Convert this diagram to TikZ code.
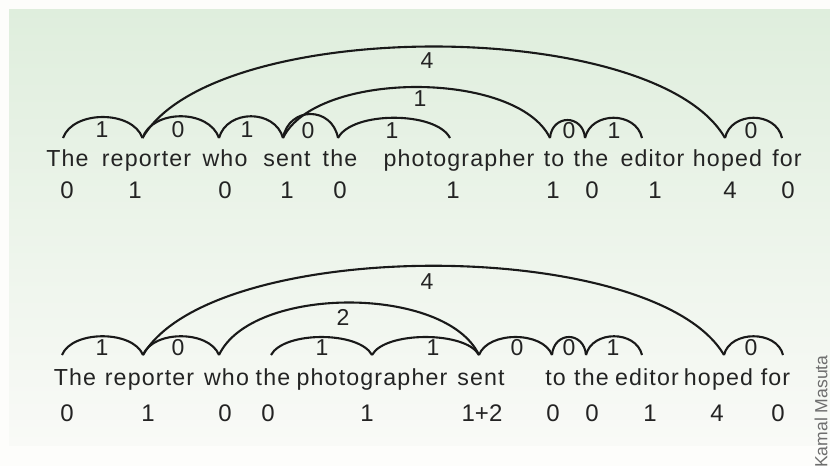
\documentclass[tikz,border=0pt]{standalone}
\usepackage{fontspec}
\setmainfont{Liberation Sans}
\newfontfamily\wordfont[LetterSpace=5]{Liberation Sans}
\definecolor{bgtop}{RGB}{223,238,221}
\definecolor{bgbot}{RGB}{249,250,247}
\definecolor{paper}{RGB}{253,253,251}
\definecolor{txt}{RGB}{35,35,35}
\definecolor{credit}{RGB}{110,110,110}
\tikzset{
  word/.style={font=\wordfont\fontsize{11.6}{13}\selectfont, text=txt, inner sep=0pt, anchor=base},
  count/.style={font=\fontsize{12}{14}\selectfont, text=txt, inner sep=0pt},
  arclabel/.style={font=\fontsize{11.5}{13}\selectfont, text=txt, inner sep=0pt},
  arcline/.style={draw=black!90, line width=1.05pt},
}
% arc between two named points: #3 = horizontal pull, #4 = control height
\newcommand\linkarc[4]{\draw[arcline] (#1) .. controls +(#3,-#4) and +(-#3,-#4) .. (#2);}
\begin{document}
\begin{tikzpicture}[x=0.5pt,y=-0.5pt]
\useasboundingbox (0,0) rectangle (830,466);
\fill[paper] (0,0) rectangle (830,466);
\shade[top color=bgtop, bottom color=bgbot] (9,9) rectangle (830,445);

% ---------- first sentence ----------
\node[word] (a1)  at (67.5,166) {The};
\node[word] (a2)  at (146.5,166) {reporter};
\node[word] (a3)  at (225,166) {who};
\node[word] (a4)  at (287,166) {sent};
\node[word] (a5)  at (340,166) {the};
\node[word] (a6)  at (459,166) {photographer};
\node[word] (a7)  at (554,166) {to};
\node[word] (a8)  at (591,166) {the};
\node[word] (a9)  at (652.5,166) {editor};
\node[word] (a10) at (727.5,166) {hoped};
\node[word] (a11) at (787,166) {for};

\foreach \x/\v [count=\i] in {67/0,135/1,225/0,287/1,340/0,453/1,553/1,592/0,655/1,730/4,788/0}
  \node[count] (na\i) at (\x,190) {\v};

\foreach \x [count=\i from 0] in {63,142.5,219,283,338,450,550,585,642,725,782}
  \coordinate (p\i) at (\x,138);

\linkarc{p0}{p1}{10}{28}
\linkarc{p1}{p2}{10}{29}
\linkarc{p2}{p3}{8}{29}
\linkarc{p3}{p4}{6}{32}
\linkarc{p4}{p5}{14}{27}
\linkarc{p6}{p7}{2}{24}
\linkarc{p7}{p8}{6}{27}
\linkarc{p9}{p10}{6}{27}
\linkarc{p1}{p9}{70}{122}
\linkarc{p3}{p6}{33}{68}

\node[arclabel] (la1) at (102,130) {1};
\node[arclabel] (la2) at (178,130) {0};
\node[arclabel] (la3) at (247,130) {1};
\node[arclabel] (la4) at (308,131) {0};
\node[arclabel] (la5) at (392,131) {1};
\node[arclabel] (la6) at (569,131) {0};
\node[arclabel] (la7) at (614,131) {1};
\node[arclabel] (la8) at (751,131) {0};
\node[arclabel] (la9) at (427,61) {4};
\node[arclabel] (la10) at (420,99) {1};

% ---------- second sentence ----------
\node[word] (b1)  at (75,385) {The};
\node[word] (b2)  at (149.5,385) {reporter};
\node[word] (b3)  at (226.5,385) {who};
\node[word] (b4)  at (273,385) {the};
\node[word] (b5)  at (372,385) {photographer};
\node[word] (b6)  at (481,385) {sent};
\node[word] (b7)  at (555.5,385) {to};
\node[word] (b8)  at (591.5,385) {the};
\node[word] (b9)  at (647,385) {editor};
\node[word] (b10) at (718.5,385) {hoped};
\node[word] (b11) at (775.5,385) {for};

\foreach \x/\v [count=\i] in {67/0,148/1,225/0,268/0,367/1,482/1+2,553/0,592/0,650/1,717/4,778/0}
  \node[count] (nb\i) at (\x,413) {\v};

\foreach \x [count=\i from 0] in {62,143,219,271,372,479,552,586,642,724,783}
  \coordinate (q\i) at (\x,355);

\linkarc{q0}{q1}{10}{25}
\linkarc{q1}{q2}{10}{25}
\linkarc{q3}{q4}{13}{24}
\linkarc{q4}{q5}{13}{24}
\linkarc{q5}{q6}{9}{24}
\linkarc{q6}{q7}{2}{24}
\linkarc{q7}{q8}{6}{25}
\linkarc{q9}{q10}{6}{25}
\linkarc{q1}{q9}{70}{119}
\linkarc{q2}{q5}{33}{70}

\node[arclabel] (lb1) at (102,348) {1};
\node[arclabel] (lb2) at (178,348) {0};
\node[arclabel] (lb3) at (322,348) {1};
\node[arclabel] (lb4) at (433,348) {1};
\node[arclabel] (lb5) at (517,348) {0};
\node[arclabel] (lb6) at (569,348) {0};
\node[arclabel] (lb7) at (613,348) {1};
\node[arclabel] (lb8) at (751,348) {0};
\node[arclabel] (lb9) at (427,282) {4};
\node[arclabel] (lb10) at (343,317) {2};

% photo credit, set upright along the right edge
\node[font=\fontsize{8.8}{10}\selectfont, text=credit, inner sep=0pt, rotate=90, anchor=east] (credit) at (821,355) {Kamal Masuta};
\end{tikzpicture}
\end{document}
